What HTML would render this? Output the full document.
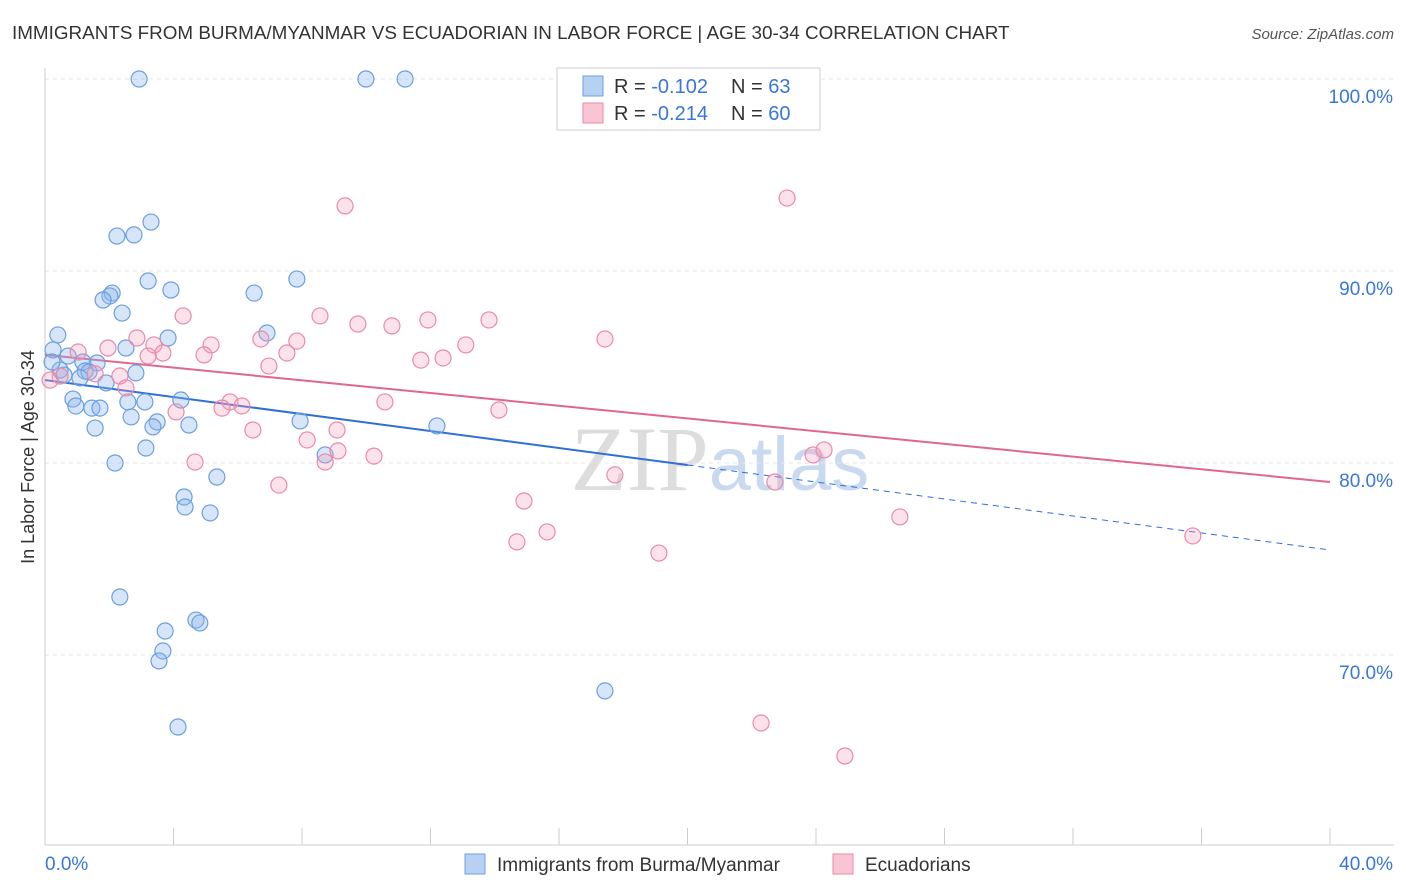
<!DOCTYPE html>
<html><head><meta charset="utf-8"><style>
body{margin:0;background:#fff;font-family:"Liberation Sans",sans-serif;}
svg{display:block}
</style></head><body>
<svg id="chart" width="1406" height="892">
<text x="12" y="39" font-size="18.85" fill="#333">IMMIGRANTS FROM BURMA/MYANMAR VS ECUADORIAN IN LABOR FORCE | AGE 30-34 CORRELATION CHART</text>
<text x="1394" y="39" font-size="15" fill="#555" font-style="italic" text-anchor="end">Source: ZipAtlas.com</text>
<text x="720" y="490" font-size="92" fill="#ddd" text-anchor="middle" font-family="Liberation Serif,serif">ZIP<tspan fill="#c9daf0" font-family="Liberation Sans,sans-serif" font-size="76">atlas</tspan></text>
<g id="grid"></g><g id="axes"></g><g id="trends"></g><g id="pts"></g>
<text transform="translate(34,457) rotate(-90)" font-size="18" fill="#333" text-anchor="middle">In Labor Force | Age 30-34</text>
<g>
<rect x="557" y="68" width="263" height="62" fill="#fff" stroke="#ccc"/>
<rect x="583" y="76" width="20" height="20" fill="#b7d1f3" stroke="#6a9fe0"/>
<rect x="583" y="103" width="20" height="20" fill="#f9c4d4" stroke="#e98aa8"/>
<text x="614" y="93" font-size="20" fill="#333">R = <tspan fill="#3a76d8">-0.102</tspan></text>
<text x="731" y="93" font-size="20" fill="#333">N = <tspan fill="#3a76d8">63</tspan></text>
<text x="614" y="120" font-size="20" fill="#333">R = <tspan fill="#3a76d8">-0.214</tspan></text>
<text x="731" y="120" font-size="20" fill="#333">N = <tspan fill="#3a76d8">60</tspan></text>
</g>
<g>
<rect x="465" y="854" width="20" height="20" fill="#b7d1f3" stroke="#6a9fe0"/>
<text x="497" y="871" font-size="19" fill="#333">Immigrants from Burma/Myanmar</text>
<rect x="833" y="854" width="20" height="20" fill="#f9c4d4" stroke="#e98aa8"/>
<text x="865" y="871" font-size="19" fill="#333">Ecuadorians</text>
</g>
</svg>
<script>
const blueX=[2.93,9.99,11.21,3.30,2.24,2.77,3.21,3.92,2.09,2.02,1.81,2.40,6.51,7.84,0.40,3.83,6.91,2.52,0.25,0.72,1.62,1.18,0.47,0.22,0.59,1.25,1.37,2.83,1.09,1.90,0.87,0.96,1.46,1.71,2.58,3.11,4.23,2.68,3.49,3.36,1.56,4.48,7.94,12.20,3.14,2.18,8.72,4.33,4.36,5.35,5.14,2.33,4.70,4.82,3.74,3.67,3.55,4.14,17.43];
const blueY=[100,100,100,92.55,91.82,91.88,89.48,89.01,88.85,88.70,88.49,87.81,88.85,89.58,86.67,86.51,86.77,85.99,85.89,85.57,85.21,85.26,84.84,85.26,84.58,84.79,84.74,84.69,84.43,84.17,83.33,82.97,82.86,82.86,83.18,83.18,83.28,82.40,82.14,81.88,81.82,81.98,82.19,81.93,80.78,80.00,80.42,78.23,77.71,79.27,77.40,73.02,71.82,71.67,71.25,70.21,69.69,66.25,68.13];
const pinkX=[18.52,21.07,22.32,9.34,23.10,4.30,8.56,11.92,13.82,9.74,10.80,2.86,7.84,6.72,5.17,3.39,17.43,13.10,12.39,11.70,1.96,1.03,3.67,3.21,4.95,7.53,6.97,2.33,2.52,0.47,0.16,1.56,5.76,6.13,5.51,4.08,10.58,14.13,6.47,9.09,8.16,9.12,10.24,8.72,4.67,23.91,24.25,22.72,7.28,17.74,14.91,26.61,14.69,15.63,19.11,35.73,22.29,24.90];
const pinkY=[100,100,100,93.39,93.80,87.66,87.66,87.45,87.45,87.24,87.14,86.51,86.35,86.46,86.15,86.15,86.46,86.15,85.47,85.36,85.99,85.78,85.73,85.57,85.63,85.73,85.05,84.53,83.91,84.53,84.32,84.64,83.18,82.97,82.86,82.66,83.18,82.76,81.72,81.72,81.20,80.63,80.36,80.05,80.05,80.42,80.68,79.01,78.85,79.38,78.02,77.19,75.89,76.41,75.31,76.20,66.46,64.74];
const blueTrend=[84.32,75.47];
const pinkTrend=[85.63,79.01];
const yTicks=[100,90,80,70];
const xTicks=[0,40];
const NS="http://www.w3.org/2000/svg";
const X=v=>45+v/40*1285, Y=v=>79+(100-v)*19.2;
function mk(t,a,p){const e=document.createElementNS(NS,t);for(const k in a)e.setAttribute(k,a[k]);p.appendChild(e);return e;}
const grid=document.getElementById('grid'),axes=document.getElementById('axes');
yTicks.forEach(v=>{
 const l=mk('line',{x1:45,x2:1394,y1:Y(v),y2:Y(v),stroke:'#e6e6e6','stroke-dasharray':'4,4'},grid);
 
 
 const t=mk('text',{x:1393,y:Y(v)+24,'font-size':19,fill:'#3a76d8','text-anchor':'end'},axes);
 t.textContent=v.toFixed(1)+'%';
 
 
});
mk('line',{x1:45,x2:45,y1:68,y2:845,stroke:'#ccc'},axes);
mk('line',{x1:45,x2:1394,y1:845,y2:845,stroke:'#ccc'},axes);
for(let i=0;i<=10;i++){mk('line',{x1:X(i*4),x2:X(i*4),y1:828,y2:845,stroke:'#ccc'},axes);}
xTicks.forEach((v,i)=>{
 const t=mk('text',{x:i?1393:45,y:870,'font-size':19,fill:'#3a76d8','text-anchor':i?'end':'start'},axes);
 t.textContent=v.toFixed(1)+'%';
 
 
});
const tr=document.getElementById('trends');
const bAt=x=>blueTrend[0]+(blueTrend[1]-blueTrend[0])*x/40;
let l1=mk('line',{x1:X(0),y1:Y(bAt(0)),x2:X(20),y2:Y(bAt(20)),stroke:'#2f6fd6','stroke-width':2},tr);


let l2=mk('line',{x1:X(20),y1:Y(bAt(20)),x2:X(40),y2:Y(bAt(40)),stroke:'#2f6fd6','stroke-width':1,'stroke-dasharray':'6,5'},tr);


let l3=mk('line',{x1:X(0),y1:Y(pinkTrend[0]),x2:X(40),y2:Y(pinkTrend[1]),stroke:'#e06690','stroke-width':2},tr);


const pts=document.getElementById('pts');
blueX.forEach((x,i)=>{
 const c=mk('circle',{cx:X(x),cy:Y(blueY[i]),r:8,fill:'rgba(140,180,235,0.35)',stroke:'#6a9fe0','stroke-width':1.2},pts);
 
 
});
pinkX.forEach((x,i)=>{
 const c=mk('circle',{cx:X(x),cy:Y(pinkY[i]),r:8,fill:'rgba(245,160,190,0.3)',stroke:'#e98aa8','stroke-width':1.2},pts);
 
 
});
</script>
</body></html>
